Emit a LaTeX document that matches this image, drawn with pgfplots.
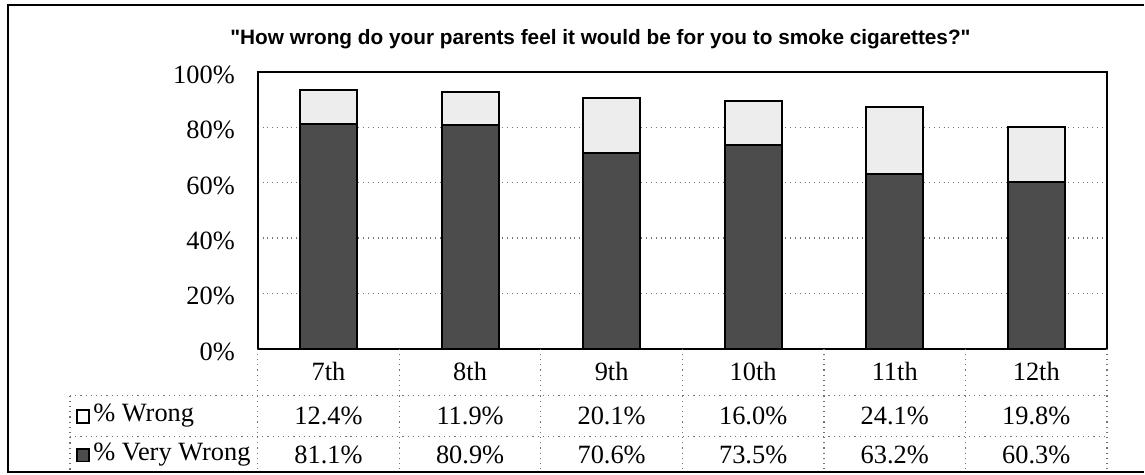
\documentclass[border=0pt]{standalone}
\usepackage{pgfplots}
\pgfplotsset{compat=1.18}
\usepackage{fontspec}
\setmainfont{Liberation Serif}
\newfontfamily\titlefont{Liberation Sans}

\definecolor{darkbar}{gray}{0.30}
\definecolor{lightbar}{gray}{0.93}
\definecolor{gridgray}{gray}{0.45}

% values: % Very Wrong, % Wrong
\pgfplotstableread{
x  vw    w
1  81.1  12.4
2  80.9  11.9
3  70.6  20.1
4  73.5  16.0
5  63.2  24.1
6  60.3  19.8
}\smoking

\begin{document}
\begin{tikzpicture}
% picture box and outer frame (pixel units, y up, 1px = 0.5pt)
\begin{scope}[x=0.5pt,y=0.5pt]
\path (0,0) rectangle (1145,475);
\draw[line width=1pt] (1145,470) -- (8,470) -- (8,3) -- (1145,3);
\node[font=\titlefont\bfseries\fontsize{10.4}{12}\selectfont] at (601,436)
  {"How wrong do your parents feel it would be for you to smoke cigarettes?"};
\end{scope}

\begin{axis}[
    at={(129pt,63pt)}, anchor=south west,
    scale only axis,
    width=425pt, height=138.5pt,
    ybar stacked,
    bar width=28.5pt,
    xmin=0.5, xmax=6.5,
    ymin=0, ymax=100,
    xtick=\empty,
    ytick={0,20,40,60,80,100},
    yticklabel={\pgfmathprintnumber{\tick}\%},
    yticklabel style={font=\fontsize{13.2}{15}\selectfont, xshift=-8pt, yshift=-1.5pt},
    /pgf/number format/assume math mode=true,
    ymajorgrids=true,
    grid style={gridgray, dotted, line width=0.6pt},
    major tick style={draw=none},
    axis line style={line width=1pt},
    clip=false,
]
\addplot[draw=black, line width=1pt, fill=darkbar] table[x=x, y=vw] {\smoking};
\addplot[draw=black, line width=1pt, fill=lightbar] table[x=x, y=w] {\smoking};
\end{axis}

% data table under the plot
\begin{scope}[x=0.5pt,y=0.5pt]
\begin{scope}[gridgray, dotted, line width=0.6pt]
  \draw (70,79) -- (1108,79);
  \draw (70,38) -- (1108,38);
  \draw (70,79) -- (70,3);
  \foreach \k in {0,...,6} \draw ({258+141.667*\k},126) -- ({258+141.667*\k},3);
\end{scope}
\begin{scope}[font=\fontsize{13.2}{15}\selectfont]
  \foreach \lab [count=\k] in {7th,8th,9th,10th,11th,12th}
    \node at ({258+141.667*(\k-0.5)},103) {\lab};
  \foreach \v [count=\k] in {12.4,11.9,20.1,16.0,24.1,19.8}
    \node at ({258+141.667*(\k-0.5)},59) {\v\%};
  \foreach \v [count=\k] in {81.1,80.9,70.6,73.5,63.2,60.3}
    \node at ({258+141.667*(\k-0.5)},20) {\v\%};
  \draw[line width=0.9pt, fill=white] (77,52) rectangle (89,65);
  \node[anchor=west, inner sep=0pt] at (93,59) {\% Wrong};
  \draw[line width=0.9pt, fill=darkbar] (77,13) rectangle (89,26);
  \node[anchor=west, inner sep=0pt] at (93,20) {\% Very Wrong};
\end{scope}
\end{scope}
\end{tikzpicture}
\end{document}
